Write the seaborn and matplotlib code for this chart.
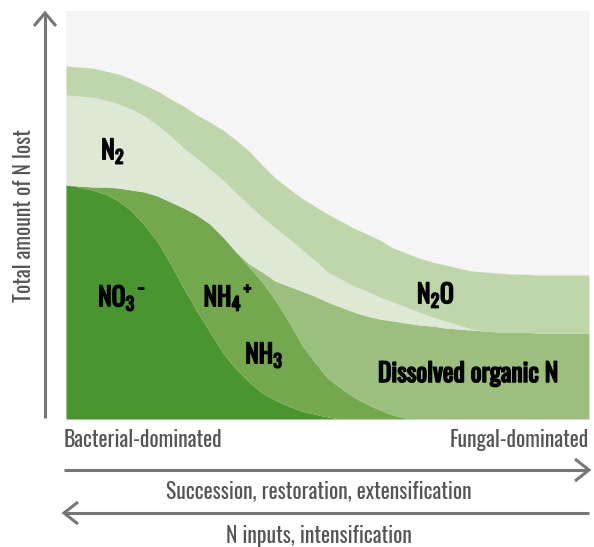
import matplotlib
matplotlib.use("Agg")
import matplotlib.pyplot as plt
from matplotlib import font_manager
import matplotlib.patheffects as pe
import seaborn as sns

# position along the bacterial -> fungal gradient (0-100)
x_pos = [0, 2.5, 5, 7.5, 10, 12.5, 15, 17.5, 20, 22.5, 25, 27.5, 30, 32.5,
         35, 37.5, 40, 42.5, 45, 47.5, 50, 52.5, 55, 57.5, 60, 62.5, 65,
         67.5, 70, 72.5, 75, 77.5, 80, 82.5, 85, 87.5, 90, 92.5, 95, 97.5, 100]

# cumulative top of each band (arbitrary units of N lost)
no3_top = [234, 232, 229, 225, 218, 208, 194, 177, 155, 131, 108, 87, 66, 50,
           37, 26, 19, 13, 8, 5, 2, 0, 0, 0, 0, 0, 0,
           0, 0, 0, 0, 0, 0, 0, 0, 0, 0, 0, 0, 0, 0]
nh_top = [234, 233, 232, 232, 231, 229, 227, 223, 217, 211, 204, 195, 182, 167,
          152, 137, 119, 98, 75, 57, 41, 31, 22, 15, 9, 4, 1,
          0, 0, 0, 0, 0, 0, 0, 0, 0, 0, 0, 0, 0, 0]
don_top = [234, 233, 232, 232, 231, 229, 227, 223, 217, 211, 204, 195, 182, 167,
           155, 147, 138, 133, 128, 123, 117, 112, 107, 103, 100, 98, 96,
           94, 93, 91, 90, 89, 88, 87, 87, 87, 86, 86, 86, 86, 86]
n2_top = [324, 323, 322, 319, 315, 310, 303, 294, 283, 271, 261, 250, 239, 226,
          214, 202, 191, 181, 170, 159, 147, 140, 133, 128, 122, 117, 112,
          107, 102, 98, 94, 90, 88, 87, 87, 87, 86, 86, 86, 86, 86]
n2o_top = [353, 352, 351, 348, 345, 340, 334, 328, 320, 313, 304, 297, 289, 279,
           268, 254, 241, 231, 221, 213, 205, 198, 191, 185, 179, 171, 166,
           161, 157, 154, 151, 148, 147, 146, 145, 145, 144, 144, 144, 144, 144]

band_colors = ["#4a962e", "#74a84f", "#9bc07d", "#dde9d5", "#bed6aa"]

sns.set_style("white")

installed = {f.name for f in font_manager.fontManager.ttflist}
FONT = "DejaVu Sans"
for name in ["Oswald", "Fjalla One", "Roboto Condensed", "Archivo Narrow",
             "PT Sans Narrow", "Liberation Sans Narrow"]:
    if name in installed:
        FONT = name
        break
plt.rcParams["font.family"] = [FONT, "DejaVu Sans"]
plt.rcParams["mathtext.fontset"] = "custom"
plt.rcParams["mathtext.rm"] = FONT + ":bold"
plt.rcParams["mathtext.it"] = FONT + ":bold"
plt.rcParams["mathtext.bf"] = FONT + ":bold"
plt.rcParams["mathtext.default"] = "rm"

W, H = 594, 547
fig = plt.figure(figsize=(W / 100, H / 100), dpi=100)

# main plotting area
ax = fig.add_axes([66 / W, (H - 419) / H, 523 / W, 408 / H])
ax.set_facecolor("#f5f5f5")
ax.set_xlim(0, 100)
ax.set_ylim(0, 408)
for s in ax.spines.values():
    s.set_visible(False)
ax.set_xticks([])
ax.set_yticks([])

zero = [0] * len(x_pos)
layers = [zero, no3_top, nh_top, don_top, n2_top, n2o_top]
for i, c in enumerate(band_colors):
    ax.fill_between(x_pos, layers[i], layers[i + 1], color=c, lw=0)

# the available Oswald face is not bold, so thicken the labels with a stroke
bold = [pe.withStroke(linewidth=1.1, foreground="black")]
lab = dict(fontsize=16, fontweight="bold", color="black",
           ha="center", va="center", path_effects=bold)
labels = [
    ax.text(9.0, 268, r"N$_2$", **lab),
    ax.text(10.7, 121, r"NO$_3{}^-$", **lab),
    ax.text(31.0, 121, r"NH$_4{}^+$", **lab),
    ax.text(37.9, 64, r"NH$_3$", **lab),
    ax.text(70.7, 124, r"N$_2$O", **lab),
]
don_label = ax.text(76.9, 45, "Dissolved organic N", **lab)

# overlay in pixel coordinates for arrows and outer text
ov = fig.add_axes([0, 0, 1, 1])
ov.set_xlim(0, W)
ov.set_ylim(H, 0)
ov.axis("off")
ov.patch.set_alpha(0)

acol = "#777777"
akw = dict(color=acol, lw=2.2, solid_capstyle="butt", solid_joinstyle="miter")
# y arrow
ov.plot([45, 45], [418, 14], **akw)
ov.plot([34, 45, 56], [26, 13, 26], **akw)
# right arrow
ov.plot([64, 588], [470, 470], **akw)
ov.plot([575, 589, 575], [459, 470, 481], **akw)
# left arrow
ov.plot([65, 589], [513, 513], **akw)
ov.plot([78, 64, 78], [502, 513, 524], **akw)

tkw = dict(color="#555555", fontsize=14)
grey = [
    ov.text(24, 216, "Total amount of N lost", rotation=90,
            ha="center", va="center", **tkw),
    ov.text(64, 440, "Bacterial-dominated", ha="left", va="center", **tkw),
    ov.text(589, 440, "Fungal-dominated", ha="right", va="center", **tkw),
    ov.text(319, 491, "Succession, restoration, extensification",
            ha="center", va="center", **tkw),
    ov.text(319, 536, "N inputs, intensification",
            ha="center", va="center", **tkw),
]
if FONT == "Oswald":
    for t in grey:
        t.set_fontweight("light")

# size text so it spans the same width as in the original figure
fig.canvas.draw()
r = fig.canvas.get_renderer()
scale = 181 / don_label.get_window_extent(r).width
for t in labels + [don_label]:
    t.set_fontsize(16 * scale)
scale = 305 / grey[3].get_window_extent(r).width
for t in grey:
    t.set_fontsize(14 * scale)

fig.savefig("out.png", dpi=100, facecolor="white")
